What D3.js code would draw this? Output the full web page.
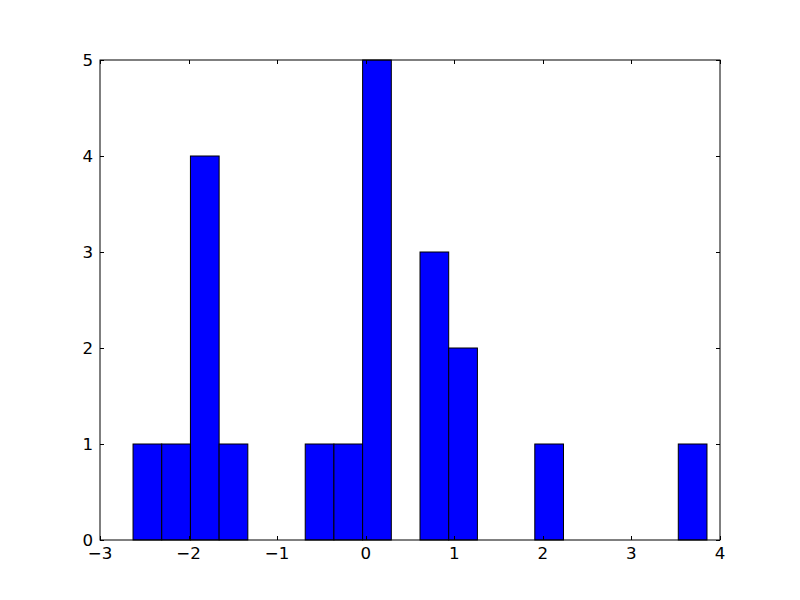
<!DOCTYPE html>
<html>
<head>
<meta charset="utf-8">
<script src="https://cdn.jsdelivr.net/npm/d3@7"></script>
<style>
body { margin: 0; background: #fff; }
svg { display: block; }
text { font-family: "DejaVu Sans", sans-serif; }
</style>
</head>
<body>
<svg id="chart" width="800" height="600"></svg>
<script>
// Histogram data
const binMin = -2.627;
const binMax = 3.853;
const counts = [1, 1, 4, 1, 0, 0, 1, 1, 5, 0, 3, 2, 0, 0, 1, 0, 0, 0, 0, 1];
const xTicks = [-3, -2, -1, 0, 1, 2, 3, 4];
const yTicks = [0, 1, 2, 3, 4, 5];

const W = 800, H = 600;
const margin = { left: 100, right: 80, top: 60, bottom: 60 };
const svg = d3.select("#chart");
svg.append("rect").attr("width", W).attr("height", H).attr("fill", "#fff");

const x = d3.scaleLinear().domain([-3, 4]).range([margin.left, W - margin.right]);
const y = d3.scaleLinear().domain([0, 5]).range([H - margin.bottom, margin.top]);

const binW = (binMax - binMin) / counts.length;
const bins = counts.map((c, i) => ({ x0: binMin + i * binW, x1: binMin + (i + 1) * binW, c }));

svg.append("g").selectAll("rect").data(bins.filter(d => d.c > 0)).join("rect")
  .attr("x", d => x(d.x0))
  .attr("y", d => y(d.c))
  .attr("width", d => x(d.x1) - x(d.x0))
  .attr("height", d => y(0) - y(d.c))
  .attr("fill", "#0000ff")
  .attr("stroke", "#000")
  .attr("stroke-width", 1);

const fmt = v => (v < 0 ? "\u2212" + Math.abs(v) : String(v));
const tickLen = 4;

// frame
svg.append("rect")
  .attr("x", x(-3)).attr("y", y(5))
  .attr("width", x(4) - x(-3)).attr("height", y(0) - y(5))
  .attr("fill", "none").attr("stroke", "#000").attr("stroke-width", 1);

// x ticks (inward, top and bottom)
const gx = svg.append("g");
xTicks.forEach(t => {
  const px = Math.round(x(t)) + 0.5;
  gx.append("line").attr("x1", px).attr("x2", px).attr("y1", y(0)).attr("y2", y(0) - tickLen).attr("stroke", "#000");
  gx.append("line").attr("x1", px).attr("x2", px).attr("y1", y(5)).attr("y2", y(5) + tickLen).attr("stroke", "#000");
  gx.append("text").attr("x", x(t)).attr("y", y(0) + 6).attr("dy", "0.76em")
    .attr("text-anchor", "middle").attr("font-size", 16.67).attr("fill", "#000").text(fmt(t));
});

// y ticks (inward, left and right)
const gy = svg.append("g");
yTicks.forEach(t => {
  const py = Math.round(y(t)) + 0.5;
  gy.append("line").attr("x1", x(-3)).attr("x2", x(-3) + tickLen).attr("y1", py).attr("y2", py).attr("stroke", "#000");
  gy.append("line").attr("x1", x(4)).attr("x2", x(4) - tickLen).attr("y1", py).attr("y2", py).attr("stroke", "#000");
  gy.append("text").attr("x", x(-3) - 7).attr("y", y(t)).attr("dy", "0.36em")
    .attr("text-anchor", "end").attr("font-size", 16.67).attr("fill", "#000").text(fmt(t));
});
</script>
</body>
</html>
